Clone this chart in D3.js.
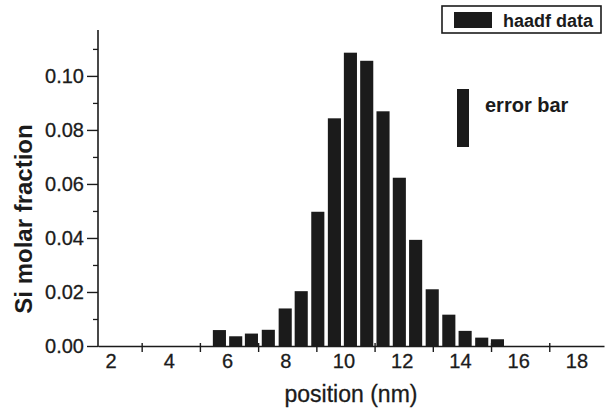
<!DOCTYPE html>
<html>
<head>
<meta charset="utf-8">
<script src="https://cdn.jsdelivr.net/npm/d3@7/dist/d3.min.js"></script>
<style>
  html, body { margin: 0; padding: 0; background: #fff; }
  svg { display: block; }
</style>
</head>
<body>
<svg id="chart" width="609" height="409"></svg>
<script>
// ---- data ----
const positions = [5.67, 6.23, 6.77, 7.35, 7.93, 8.48, 9.05, 9.62, 10.17, 10.73,
                   11.29, 11.85, 12.41, 12.98, 13.55, 14.11, 14.68, 15.22];
const siFraction = [0.0059, 0.0036, 0.0046, 0.0060, 0.0139, 0.0203, 0.0497, 0.0843, 0.1086, 0.1056,
                    0.0869, 0.0623, 0.0393, 0.0210, 0.0116, 0.0056, 0.0031, 0.0025];
const barWidthNm = 0.45;
const xLabelTicks = [2, 4, 6, 8, 10, 12, 14, 16, 18];
const xMarkTicks = [3, 5, 7, 9, 11, 13, 15, 17];
const yMajorTicks = [0, 0.02, 0.04, 0.06, 0.08, 0.10];
const yMinorTicks = [0.01, 0.03, 0.05, 0.07, 0.09, 0.11];
const xTitle = "position (nm)";
const yTitle = "Si molar fraction";
const legendLabel = "haadf data";
const errorLabel = "error bar";

// ---- layout ----
const W = 609, H = 409;
const margin = { left: 98, top: 30, right: 5, bottom: 63 };
const ink = "#1b1b1b";
const font = "'Liberation Sans', Arial, sans-serif";

const svg = d3.select("#chart");
svg.append("rect").attr("width", W).attr("height", H).attr("fill", "#fff");

const x = d3.scaleLinear().domain([1.5, 18.88]).range([margin.left, W - margin.right]);
const y = d3.scaleLinear().domain([0, 0.117]).range([H - margin.bottom, margin.top]);

const data = positions.map((p, i) => ({ p, v: siFraction[i] }));

// bars
svg.append("g").selectAll("rect").data(data).join("rect")
  .attr("x", d => x(d.p - barWidthNm / 2))
  .attr("width", x(barWidthNm) - x(0))
  .attr("y", d => y(d.v))
  .attr("height", d => y(0) - y(d.v))
  .attr("fill", ink);

// y axis
const yAxisG = svg.append("g").attr("transform", `translate(${margin.left},0)`);
yAxisG.call(d3.axisLeft(y).tickValues(yMajorTicks).tickFormat(d3.format(".2f"))
  .tickSize(11).tickSizeOuter(0).tickPadding(3));
yAxisG.select(".domain").remove();
yAxisG.selectAll(".tick line").attr("stroke", ink).attr("stroke-width", 1.4);
yAxisG.selectAll(".tick text").attr("font-family", font).attr("font-size", 20)
  .attr("fill", ink).attr("stroke", ink).attr("stroke-width", 0.3);

const yMinorG = svg.append("g").attr("transform", `translate(${margin.left},0)`);
yMinorG.call(d3.axisLeft(y).tickValues(yMinorTicks).tickFormat("").tickSize(5).tickSizeOuter(0));
yMinorG.select(".domain").remove();
yMinorG.selectAll(".tick line").attr("stroke", ink).attr("stroke-width", 1.3);

svg.append("line")
  .attr("x1", margin.left).attr("x2", margin.left)
  .attr("y1", y.range()[1]).attr("y2", y(0) + 1)
  .attr("stroke", ink).attr("stroke-width", 1.6);

// x axis
const xAxisG = svg.append("g").attr("transform", `translate(0,${y(0)})`);
xAxisG.call(d3.axisBottom(x).tickValues(xMarkTicks).tickFormat("").tickSize(6).tickSizeOuter(0));
xAxisG.select(".domain").attr("stroke", ink).attr("stroke-width", 1.6);
xAxisG.selectAll(".tick line").attr("y1", -3).attr("stroke", ink).attr("stroke-width", 1.4);

const xLabG = svg.append("g").attr("transform", `translate(0,${y(0)})`);
xLabG.call(d3.axisBottom(x).tickValues(xLabelTicks).tickFormat(d3.format("d")).tickSize(0).tickPadding(8));
xLabG.select(".domain").remove();
xLabG.selectAll(".tick text").attr("font-family", font).attr("font-size", 20)
  .attr("fill", ink).attr("stroke", ink).attr("stroke-width", 0.3).attr("dx", -2);

// axis titles
svg.append("text")
  .attr("x", 351).attr("y", 402)
  .attr("text-anchor", "middle")
  .attr("font-family", font).attr("font-size", 23).attr("fill", ink)
  .attr("stroke", ink).attr("stroke-width", 0.3)
  .text(xTitle);

svg.append("text")
  .attr("transform", `translate(32,${219}) rotate(-90)`)
  .attr("text-anchor", "middle")
  .attr("font-family", font).attr("font-size", 24).attr("font-weight", "bold").attr("fill", ink)
  .text(yTitle);

// legend box
const lg = svg.append("g");
lg.append("rect").attr("x", 442).attr("y", 6).attr("width", 159).attr("height", 27)
  .attr("fill", "#fff").attr("stroke", ink).attr("stroke-width", 1.6);
lg.append("rect").attr("x", 454).attr("y", 12).attr("width", 38).attr("height", 16).attr("fill", ink);
lg.append("text").attr("x", 503).attr("y", 27)
  .attr("font-family", font).attr("font-size", 18).attr("font-weight", "bold").attr("fill", ink)
  .text(legendLabel);

// error bar annotation
svg.append("rect").attr("x", 457).attr("y", 89).attr("width", 12).attr("height", 58).attr("fill", ink);
svg.append("text").attr("x", 485).attr("y", 112)
  .attr("font-family", font).attr("font-size", 20).attr("font-weight", "bold").attr("fill", ink)
  .text(errorLabel);
</script>
</body>
</html>
